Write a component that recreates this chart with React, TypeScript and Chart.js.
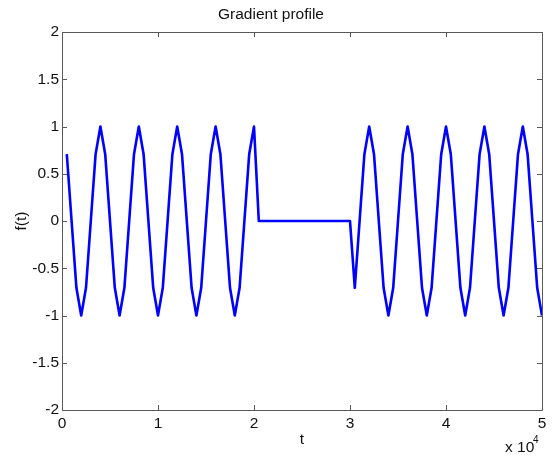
import React, { useEffect, useRef } from "react";
import { Chart, registerables } from "chart.js";

Chart.register(...registerables);

const chartTitle = "Gradient profile";
const xAxisTitle = "t";
const yAxisTitle = "f(t)";
const xTickValues = [0, 10000, 20000, 30000, 40000, 50000];
const yTickValues = [-2, -1.5, -1, -0.5, 0, 0.5, 1, 1.5, 2];

const tValues = [
  500, 1000, 1500, 2000, 2500, 3000, 3500, 4000, 4500, 5000,
  5500, 6000, 6500, 7000, 7500, 8000, 8500, 9000, 9500, 10000,
  10500, 11000, 11500, 12000, 12500, 13000, 13500, 14000, 14500, 15000,
  15500, 16000, 16500, 17000, 17500, 18000, 18500, 19000, 19500, 20000,
  20500, 21000, 21500, 22000, 22500, 23000, 23500, 24000, 24500, 25000,
  25500, 26000, 26500, 27000, 27500, 28000, 28500, 29000, 29500, 30000,
  30500, 31000, 31500, 32000, 32500, 33000, 33500, 34000, 34500, 35000,
  35500, 36000, 36500, 37000, 37500, 38000, 38500, 39000, 39500, 40000,
  40500, 41000, 41500, 42000, 42500, 43000, 43500, 44000, 44500, 45000,
  45500, 46000, 46500, 47000, 47500, 48000, 48500, 49000, 49500, 50000,
];

const fValues = [
  0.707, 0, -0.707, -1, -0.707, 0, 0.707, 1,
  0.707, 0, -0.707, -1, -0.707, 0, 0.707, 1,
  0.707, 0, -0.707, -1, -0.707, 0, 0.707, 1,
  0.707, 0, -0.707, -1, -0.707, 0, 0.707, 1,
  0.707, 0, -0.707, -1, -0.707, 0, 0.707, 1,
  0, 0, 0, 0, 0, 0, 0, 0, 0, 0,
  0, 0, 0, 0, 0, 0, 0, 0, 0, 0,
  -0.707, 0, 0.707, 1, 0.707, 0, -0.707, -1,
  -0.707, 0, 0.707, 1, 0.707, 0, -0.707, -1,
  -0.707, 0, 0.707, 1, 0.707, 0, -0.707, -1,
  -0.707, 0, 0.707, 1, 0.707, 0, -0.707, -1,
  -0.707, 0, 0.707, 1, 0.707, 0, -0.707, -1,
];

const FONT = "'Liberation Sans', Arial, Helvetica, sans-serif";
const FS = 15.5;

const framePlugin = {
  id: "matlabFrame",
  afterDraw(chart: any) {
    const { ctx, chartArea } = chart;
    const xs = chart.scales.x;
    const ys = chart.scales.y;
    const { left, right, top, bottom } = chartArea;
    const tl = 5;
    ctx.save();
    ctx.strokeStyle = "#5a5a5a";
    ctx.lineWidth = 1;
    ctx.beginPath();
    ctx.rect(Math.round(left) + 0.5, Math.round(top) + 0.5, Math.round(right - left), Math.round(bottom - top));
    ctx.stroke();
    ctx.beginPath();
    xTickValues.forEach((v) => {
      const px = Math.round(xs.getPixelForValue(v)) + 0.5;
      ctx.moveTo(px, bottom);
      ctx.lineTo(px, bottom - tl);
      ctx.moveTo(px, top);
      ctx.lineTo(px, top + tl);
    });
    yTickValues.forEach((v) => {
      const py = Math.round(ys.getPixelForValue(v)) + 0.5;
      ctx.moveTo(left, py);
      ctx.lineTo(left + tl, py);
      ctx.moveTo(right, py);
      ctx.lineTo(right - tl, py);
    });
    ctx.stroke();
    // exponent label
    ctx.fillStyle = "#111";
    ctx.textAlign = "left";
    ctx.textBaseline = "alphabetic";
    ctx.font = `${FS}px ${FONT}`;
    ctx.fillText("x 10", 505, 452);
    ctx.font = `10px ${FONT}`;
    ctx.fillText("4", 533, 443);
    ctx.restore();
  },
};

export default function App() {
  const ref = useRef<HTMLCanvasElement | null>(null);
  useEffect(() => {
    if (!ref.current) return;
    const points = tValues.map((t, i) => ({ x: t, y: fValues[i] }));
    const chart = new Chart(ref.current, {
      type: "line",
      data: {
        datasets: [
          {
            data: points,
            borderColor: "#0000ff",
            borderWidth: 2.6,
            borderJoinStyle: "round",
            pointRadius: 0,
            tension: 0,
            fill: false,
          },
        ],
      },
      options: {
        responsive: false,
        animation: false,
        layout: { padding: { left: 0, right: 11, top: 0, bottom: 0 } },
        plugins: {
          legend: { display: false },
          tooltip: { enabled: false },
          title: {
            display: true,
            text: chartTitle,
            color: "#111",
            font: { family: FONT, size: FS, weight: "normal" },
            padding: { top: 5, bottom: 8.4 },
          },
        },
        scales: {
          x: {
            type: "linear",
            min: 0,
            max: 50000,
            grid: { display: false, drawTicks: false },
            border: { display: false },
            ticks: {
              stepSize: 10000,
              padding: 4.5,
              color: "#111",
              font: { family: FONT, size: FS },
              maxRotation: 0,
              callback: (v: any) => String(Number(v) / 10000),
            },
            title: {
              display: true,
              text: xAxisTitle,
              color: "#111",
              font: { family: FONT, size: FS },
              padding: { top: 0, bottom: 7.5 },
            },
            afterFit: (s: any) => {
              s.height = 47;
            },
          },
          y: {
            type: "linear",
            min: -2,
            max: 2,
            grid: { display: false, drawTicks: false },
            border: { display: false },
            ticks: {
              stepSize: 0.5,
              padding: 3,
              color: "#111",
              font: { family: FONT, size: FS },
              callback: (v: any) => String(v),
            },
            title: {
              display: true,
              text: yAxisTitle,
              color: "#111",
              font: { family: FONT, size: FS },
              padding: { top: 12.5, bottom: 0 },
            },
            afterFit: (s: any) => {
              s.width = 62;
            },
          },
        },
      },
      plugins: [framePlugin],
    });
    return () => chart.destroy();
  }, []);
  return (
    <canvas
      ref={ref}
      width={553}
      height={457}
      style={{ position: "absolute", left: 0, top: 0, display: "block", background: "#fff" }}
    />
  );
}
